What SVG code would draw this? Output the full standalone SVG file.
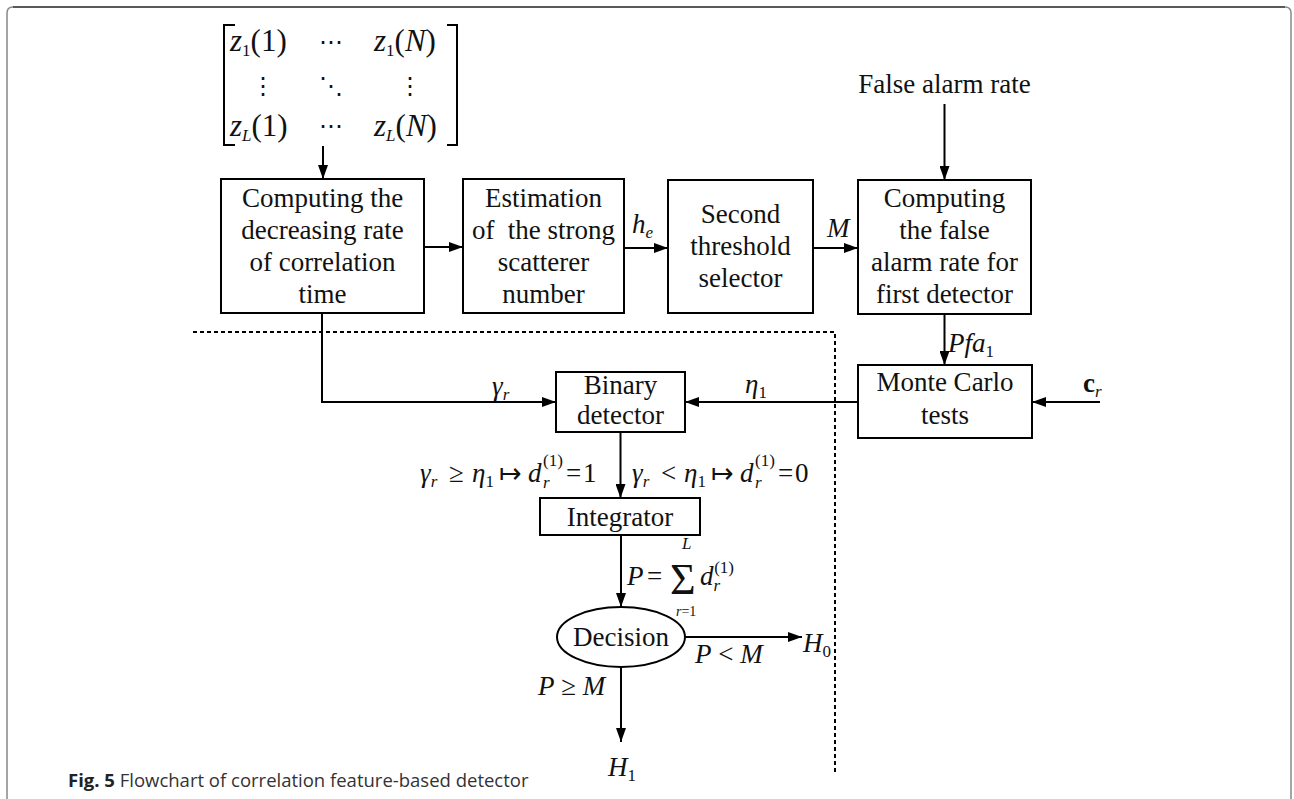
<svg xmlns="http://www.w3.org/2000/svg" width="1294" height="799" viewBox="0 0 1294 799">
<defs>
<marker id="ah" viewBox="0 0 14 10" refX="14" refY="5" markerWidth="14" markerHeight="10" markerUnits="userSpaceOnUse" orient="auto">
<path d="M0,0 L14,5 L0,10 z" fill="#000"/>
</marker>
<style>
.t{font-family:"Liberation Serif","Times New Roman",serif;font-size:27px;fill:#111}
.c{text-anchor:middle}
.m{font-family:"Liberation Serif","Times New Roman",serif;font-style:italic;font-size:27px;fill:#111}
.n{font-style:normal}
.s{font-size:17px}
.box{fill:#fff;stroke:#000;stroke-width:2}
.ln{fill:none;stroke:#000;stroke-width:2}
.ar{fill:none;stroke:#000;stroke-width:2;marker-end:url(#ah)}
.dash{fill:none;stroke:#000;stroke-width:2;stroke-dasharray:4 3}
.br{fill:none;stroke:#000;stroke-width:2}
.dots{font-family:"DejaVu Serif",serif;font-size:24px;fill:#111;text-anchor:middle}
.cap{font-family:"Open Sans",sans-serif;font-size:18.5px;fill:#333}
</style>
</defs>
<rect width="1294" height="799" fill="#fff"/>
<g id="frame">
<path d="M7,799 V13 Q7,7 13,7" fill="none" stroke="#888" stroke-width="1.5"/>
<path d="M13,7 H1285" fill="none" stroke="#222" stroke-width="1.5"/>
<path d="M1285,7 Q1291,7 1291,13 V799" fill="none" stroke="#888" stroke-width="1.5"/>
</g>
<g id="matrix">
<path class="br" d="M235,25 H224 V145 H235"/>
<path class="br" d="M447,25 H457 V145 H447"/>
<text class="m" x="230" y="51" style="font-size:31px">z<tspan class="n s" dy="5">1</tspan><tspan class="n" dy="-5">(1)</tspan></text>
<text class="dots" x="331" y="50">⋯</text>
<text class="m" x="374" y="51" style="font-size:31px">z<tspan class="n s" dy="5">1</tspan><tspan class="n" dy="-5">(</tspan>N<tspan class="n">)</tspan></text>
<text class="dots" x="263" y="94">⋮</text>
<text class="dots" x="331" y="94">⋱</text>
<text class="dots" x="410" y="94">⋮</text>
<text class="m" x="230" y="136" style="font-size:31px">z<tspan class="s" dy="5">L</tspan><tspan class="n" dy="-5">(1)</tspan></text>
<text class="dots" x="331" y="134">⋯</text>
<text class="m" x="374" y="136" style="font-size:31px">z<tspan class="s" dy="5">L</tspan><tspan class="n" dy="-5">(</tspan>N<tspan class="n">)</tspan></text>
</g>
<g id="box1">
<rect class="box" x="221" y="179" width="203" height="134"/>
<text class="t c" x="322.5" y="207">Computing the</text>
<text class="t c" x="322.5" y="239">decreasing rate</text>
<text class="t c" x="322.5" y="271">of correlation</text>
<text class="t c" x="322.5" y="303">time</text>
</g>
<g id="box2">
<rect class="box" x="463" y="179" width="161" height="134"/>
<text class="t c" x="543.5" y="207">Estimation</text>
<text class="t c" x="543.5" y="239" xml:space="preserve">of  the strong</text>
<text class="t c" x="543.5" y="271">scatterer</text>
<text class="t c" x="543.5" y="303">number</text>
</g>
<g id="box3">
<rect class="box" x="668" y="180" width="145" height="133"/>
<text class="t c" x="740.5" y="223">Second</text>
<text class="t c" x="740.5" y="255">threshold</text>
<text class="t c" x="740.5" y="287">selector</text>
</g>
<g id="box4">
<rect class="box" x="858" y="180" width="173" height="134"/>
<text class="t c" x="944.5" y="207">Computing</text>
<text class="t c" x="944.5" y="239">the false</text>
<text class="t c" x="944.5" y="271">alarm rate for</text>
<text class="t c" x="944.5" y="303">first detector</text>
</g>
<g id="falsealarm">
<text class="t c" x="944.5" y="93">False alarm rate</text>
</g>
<g id="montecarlo">
<rect class="box" x="858" y="365" width="174" height="73"/>
<text class="t c" x="945" y="391">Monte Carlo</text>
<text class="t c" x="945" y="424">tests</text>
</g>
<g id="binary">
<rect class="box" x="556" y="372" width="129" height="60"/>
<text class="t c" x="620.5" y="394">Binary</text>
<text class="t c" x="620.5" y="424">detector</text>
</g>
<g id="integrator">
<rect class="box" x="540" y="498" width="160" height="37"/>
<text class="t c" x="620" y="526">Integrator</text>
</g>
<g id="decision">
<ellipse class="box" cx="621" cy="637" rx="64" ry="30"/>
<text class="t c" x="621" y="646">Decision</text>
</g>
<g id="connectors">
<path class="ar" d="M323,146 V179"/>
<path class="ar" d="M424,247 H463"/>
<path class="ar" d="M624,248 H668"/>
<path class="ar" d="M813,248 H858"/>
<path class="ar" d="M944.5,104 V180"/>
<path class="ar" d="M944.5,314 V365"/>
<path class="ar" d="M1100,402 H1032"/>
<path class="ar" d="M858,402 H685"/>
<path class="ar" d="M322,313 V402 H556"/>
<path class="ar" d="M620.5,432 V498"/>
<path class="ar" d="M621,535 V607"/>
<path class="ar" d="M685,637 H802"/>
<path class="ar" d="M621,667 V742"/>
<path class="dash" d="M193,332 H835 V772"/>
</g>
<g id="labels">
<text class="m" x="632" y="233">h<tspan class="s" dy="5">e</tspan></text>
<text class="m" x="827" y="237">M</text>
<text class="m" x="492" y="395">γ<tspan class="s" dy="5">r</tspan></text>
<text class="m" x="745" y="393">η<tspan class="n s" dy="5">1</tspan></text>
<text class="m" x="948" y="352">Pfa<tspan class="n s" dy="5">1</tspan></text>
<text class="t" x="1083" y="392" font-weight="bold">c<tspan class="m s" font-weight="normal" dy="5">r</tspan></text>
<g id="cond-ge">
<text class="m" x="420" y="482">γ<tspan class="s" dy="5">r</tspan></text>
<text class="t" x="449" y="482">≥</text>
<text class="m" x="472" y="482">η<tspan class="n s" dy="5">1</tspan></text>
<text class="t" x="499" y="482">↦</text>
<text class="m" x="528" y="482">d</text>
<text class="m s" x="543" y="488">r</text>
<text class="t s" x="543" y="466">(1)</text>
<text class="t" x="566" y="482">=</text>
<text class="t" x="583" y="482">1</text>
</g>
<g id="cond-lt">
<text class="m" x="632" y="482">γ<tspan class="s" dy="5">r</tspan></text>
<text class="t" x="661" y="482">&lt;</text>
<text class="m" x="684" y="482">η<tspan class="n s" dy="5">1</tspan></text>
<text class="t" x="711" y="482">↦</text>
<text class="m" x="740" y="482">d</text>
<text class="m s" x="755" y="488">r</text>
<text class="t s" x="755" y="466">(1)</text>
<text class="t" x="778" y="482">=</text>
<text class="t" x="795" y="482">0</text>
</g>
<text class="m" x="627" y="585">P</text>
<text class="t" x="647" y="585">=</text>
<text class="t" x="670" y="594" style="font-size:44px">Σ</text>
<text class="m s" x="682" y="549">L</text>
<text class="m" x="676" y="616" style="font-size:14px">r<tspan class="n">=1</tspan></text>
<text class="m" x="700" y="585">d<tspan class="s" dy="6">r</tspan><tspan class="n s" dx="-6" dy="-18">(1)</tspan></text>
<text class="m" x="695" y="663">P<tspan class="n"> &lt; </tspan>M</text>
<text class="m" x="538" y="695">P<tspan class="n"> ≥ </tspan>M</text>
<text class="m" x="803" y="652">H<tspan class="n s" dy="5">0</tspan></text>
<text class="m" x="608" y="776">H<tspan class="n s" dy="5">1</tspan></text>
</g>
<g id="caption">
<text class="cap" x="68" y="787"><tspan font-weight="bold" fill="#222">Fig. 5</tspan>  Flowchart of correlation feature-based detector</text>
</g>
</svg>
